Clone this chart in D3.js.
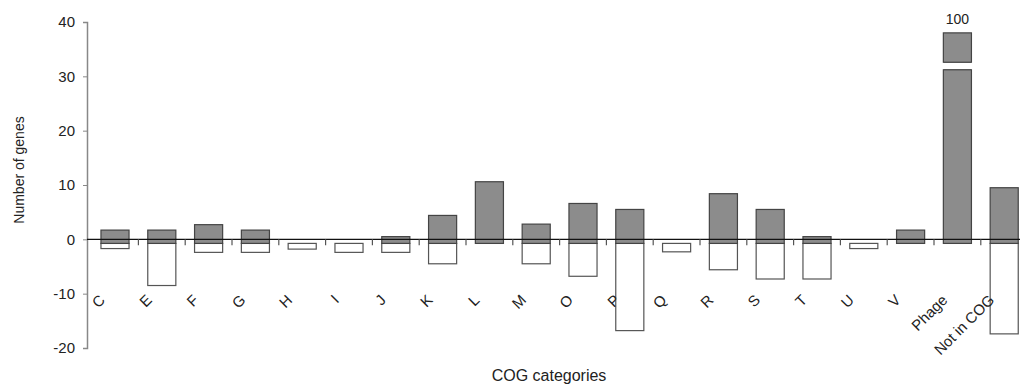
<!DOCTYPE html>
<html>
<head>
<meta charset="utf-8">
<script src="https://cdn.jsdelivr.net/npm/d3@7"></script>
<style>
  body { margin: 0; background: #fff; }
  svg { display: block; font-family: "Liberation Sans", Arial, sans-serif; }
</style>
</head>
<body>
<div id="graph"></div>
<script>
// COG categories and the two series (gray = up, white = down)
const categories = ["C", "E", "F", "G", "H", "I", "J", "K", "L", "M", "O", "P", "Q", "R", "S", "T", "U", "V", "Phage", "Not in COG"];
const upGenes   = [1.7, 1.7, 2.7, 1.7, 0, 0, 0.5, 4.4, 10.6, 2.8, 6.6, 5.5, 0, 8.4, 5.5, 0.5, 0, 1.7, 38, 9.5];
const downGenes = [-1.7, -8.5, -2.4, -2.4, -1.8, -2.4, -2.4, -4.5, 0, -4.5, -6.8, -16.8, -2.3, -5.6, -7.3, -7.3, -1.7, 0, 0, -17.4];
const yTicks = [-20, -10, 0, 10, 20, 30, 40];
const baseline = -0.75;          // bars sit slightly below the zero line
const breakRange = [31.3, 32.5]; // axis break on the Phage bar
const breakLabel = "100";

const width = 1020, height = 386;
const svg = d3.select("#graph").append("svg")
  .attr("width", width)
  .attr("height", height);

let x = d3.scaleBand()
  .domain(categories)
  .range([91.6, 91.6 + 936])
  .paddingInner(0.4)
  .paddingOuter(0.2);

let y = d3.scaleLinear()
  .domain([-20, 40])
  .range([348, 22]);

let data = categories.map(function(c, i) { return {cat: c, up: upGenes[i], down: downGenes[i]}; });

// white (negative) bars
svg.append("g").selectAll("rect")
  .data(data.filter(function(d) { return d.down < 0; }))
  .enter().append("rect")
  .attr("x", function(d) { return x(d.cat); })
  .attr("y", y(baseline))
  .attr("width", x.bandwidth())
  .attr("height", function(d) { return y(d.down) - y(baseline); })
  .attr("fill", "#fff")
  .attr("stroke", "#555")
  .attr("stroke-width", 1.2);

// gray (positive) bars
svg.append("g").selectAll("rect")
  .data(data.filter(function(d) { return d.up > 0; }))
  .enter().append("rect")
  .attr("x", function(d) { return x(d.cat); })
  .attr("y", function(d) { return y(d.up); })
  .attr("width", x.bandwidth())
  .attr("height", function(d) { return y(baseline) - y(d.up); })
  .attr("fill", "#8c8c8c")
  .attr("stroke", "#444")
  .attr("stroke-width", 1.2);

// break on the Phage bar
let phage = "Phage";
svg.append("rect")
  .attr("x", x(phage) - 2)
  .attr("y", y(breakRange[1]))
  .attr("width", x.bandwidth() + 4)
  .attr("height", y(breakRange[0]) - y(breakRange[1]))
  .attr("fill", "#fff");
breakRange.forEach(function(v) {
  svg.append("line")
    .attr("x1", x(phage)).attr("x2", x(phage) + x.bandwidth())
    .attr("y1", y(v) + (v === breakRange[0] ? 0.5 : -0.5))
    .attr("y2", y(v) + (v === breakRange[0] ? 0.5 : -0.5))
    .attr("stroke", "#444").attr("stroke-width", 1.2);
});
svg.append("text")
  .attr("x", x(phage) + x.bandwidth() / 2)
  .attr("y", y(38) - 9)
  .attr("text-anchor", "middle")
  .style("font-size", "14px")
  .attr("fill", "#222")
  .text(breakLabel);

// y axis
let yAxis = svg.append("g")
  .attr("transform", "translate(87,0)")
  .call(d3.axisLeft(y).tickValues(yTicks).tickSize(4).tickPadding(8)
    .tickFormat(function(d) { return String(d); }));
yAxis.select(".domain").attr("stroke", "#888").attr("stroke-width", 1.5);
yAxis.selectAll(".tick line").attr("stroke", "#888");
yAxis.selectAll("text").style("font-size", "15px").attr("fill", "#222")
  .style("font-family", "Liberation Sans, Arial, sans-serif");

// zero line and category ticks
svg.append("line")
  .attr("x1", 87).attr("x2", width)
  .attr("y1", y(0)).attr("y2", y(0))
  .attr("stroke", "#111").attr("stroke-width", 1.2);

svg.append("g").selectAll("line")
  .data(categories.slice(1))
  .enter().append("line")
  .attr("x1", function(d) { return x(d) - x.step() * x.paddingInner() / 2; })
  .attr("x2", function(d) { return x(d) - x.step() * x.paddingInner() / 2; })
  .attr("y1", y(0))
  .attr("y2", y(0) + 6)
  .attr("stroke", "#555").attr("stroke-width", 1.2);

// rotated category labels
svg.append("g").selectAll("text")
  .data(categories)
  .enter().append("text")
  .attr("transform", function(d) {
    return "translate(" + (x(d) + x.bandwidth() / 2 - 9) + "," + 301 + ") rotate(-45)";
  })
  .attr("text-anchor", "end")
  .style("font-size", "15px")
  .attr("fill", "#222")
  .text(function(d) { return d; });

// axis titles
svg.append("text")
  .attr("transform", "translate(24," + 170 + ") rotate(-90)")
  .attr("text-anchor", "middle")
  .style("font-size", "14px")
  .attr("fill", "#222")
  .text("Number of genes");

svg.append("text")
  .attr("x", 549)
  .attr("y", 381)
  .attr("text-anchor", "middle")
  .style("font-size", "16px")
  .attr("fill", "#222")
  .text("COG categories");
</script>
</body>
</html>
